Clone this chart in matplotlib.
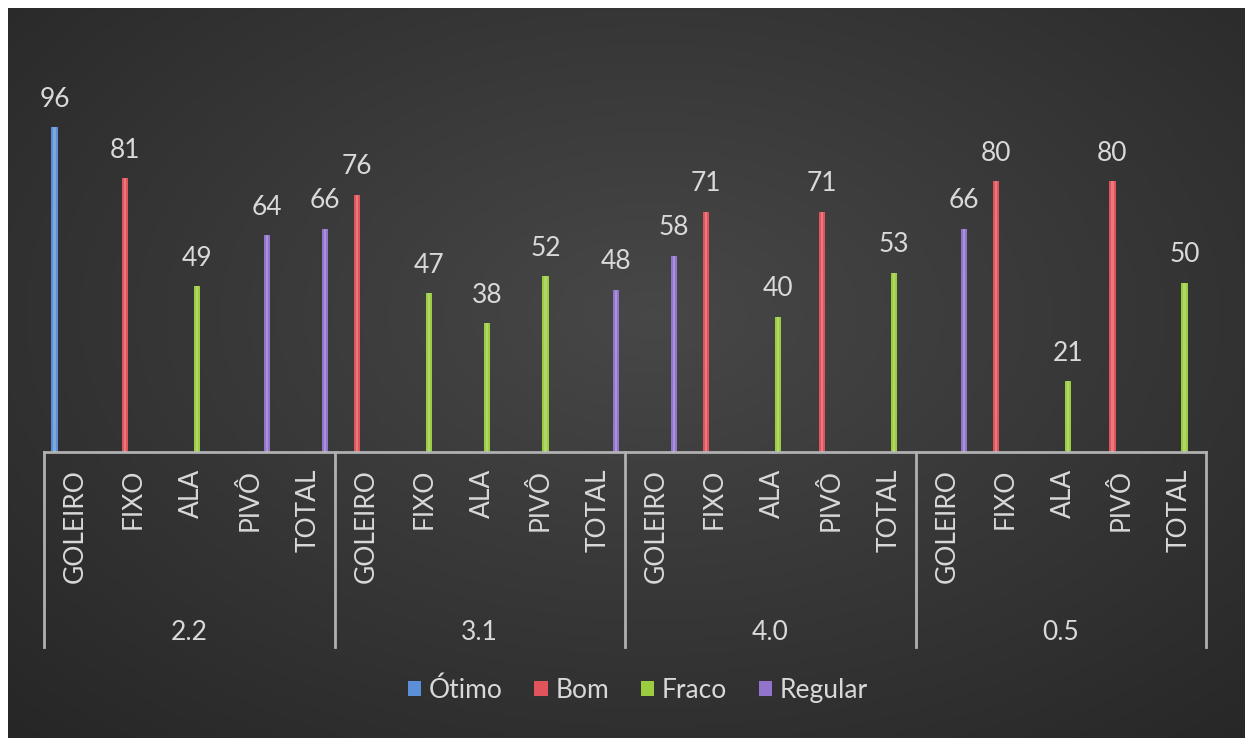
import matplotlib
matplotlib.use("Agg")
import matplotlib.pyplot as plt
import numpy as np
from matplotlib.patches import Patch
import matplotlib.transforms as mtransforms

# --- Data ---
groups = ['2.2', '3.1', '4.0', '0.5']
positions = ['GOLEIRO', 'FIXO', 'ALA', 'PIVÔ', 'TOTAL']
series_names = ['Ótimo', 'Bom', 'Fraco', 'Regular']
series_colors = ['#5b8fd8', '#e2545b', '#9ccc3f', '#9274cc']

values = [96, 81, 49, 64, 66,
          76, 47, 38, 52, 48,
          58, 71, 40, 71, 53,
          66, 80, 21, 80, 50]
bar_series = ['Ótimo', 'Bom', 'Fraco', 'Regular', 'Regular',
              'Bom', 'Fraco', 'Fraco', 'Fraco', 'Regular',
              'Regular', 'Bom', 'Fraco', 'Bom', 'Fraco',
              'Regular', 'Bom', 'Fraco', 'Bom', 'Fraco']

W, H = 1245, 738
plt.rcParams['font.family'] = ['Lato', 'DejaVu Sans']
txt = '#d9d9d9'
line_c = '#b0b0b0'
fs = 19

fig = plt.figure(figsize=(W / 100, H / 100), dpi=100, facecolor='white')

# background: dark radial gradient
bg = fig.add_axes([8 / W, 0, 1 - 8 / W, 1 - 8 / H])
bg.set_axis_off()
gx, gy = np.meshgrid(np.linspace(0, 1, 400), np.linspace(0, 1, 240))
r = np.sqrt(((gx - 0.52) / 0.75) ** 2 + ((gy - 0.42) / 0.8) ** 2)
r = np.clip(r, 0, 1)
shade = 0.28 - 0.13 * r
bg.imshow(np.dstack([shade, shade, shade]), extent=[0, 1, 0, 1],
          aspect='auto', origin='upper')
bg.set_xlim(0, 1)
bg.set_ylim(0, 1)

# main axes
x0, x1 = 44, 1206
base = 452
ppu = 325 / 96
ymax = 110
ax = fig.add_axes([x0 / W, (H - base) / H, (x1 - x0) / W, ymax * ppu / H])
ax.patch.set_alpha(0)
ax.set_xlim(-0.5, 19.5)
ax.set_ylim(0, ymax)
for s in ['top', 'right', 'left']:
    ax.spines[s].set_visible(False)
ax.spines['bottom'].set_color(line_c)
ax.spines['bottom'].set_linewidth(2)
ax.set_xticks([])
ax.set_yticks([])

offsets = [-0.32, -0.11, 0.13, 0.34]
bw = 0.11
for i, (v, s) in enumerate(zip(values, bar_series)):
    k = series_names.index(s)
    xc = i + offsets[k]
    ax.bar(xc, v, width=bw, color=series_colors[k], edgecolor='none', zorder=2)
    ax.bar(xc, v, width=bw * 0.35, color='white', alpha=0.22, edgecolor='none', zorder=3)
    ax.annotate(str(v), (xc, v), xytext=(0, 11), textcoords='offset points',
                ha='center', va='bottom', fontsize=fs, color=txt)

# category labels
trans = mtransforms.blended_transform_factory(ax.transData, ax.transAxes)
ax_h = ymax * ppu
for g in range(len(groups)):
    for p, name in enumerate(positions):
        ax.text(g * 5 + p + 0.04, -17 / ax_h, name, rotation=90, ha='center', va='top',
                fontsize=fs, color=txt, transform=trans)
    ax.text(g * 5 + 2, -180 / ax_h, groups[g], ha='center', va='center',
            fontsize=fs, color=txt, transform=trans)

# group separators
for xs in [-0.5, 4.5, 9.5, 14.5, 19.5]:
    ax.plot([xs, xs], [0, -195 / ax_h], color=line_c, lw=2,
            transform=trans, clip_on=False)

# legend
handles = [Patch(facecolor=c, edgecolor='none', label=n)
           for n, c in zip(series_names, series_colors)]
fig.legend(handles=handles, loc='center', bbox_to_anchor=(638 / W, 1 - 690 / H),
           ncol=4, frameon=False, fontsize=fs, labelcolor=txt,
           handlelength=0.5, handleheight=0.5, handletextpad=0.3,
           columnspacing=1.2)

fig.savefig('out.png', dpi=100, facecolor='white')
